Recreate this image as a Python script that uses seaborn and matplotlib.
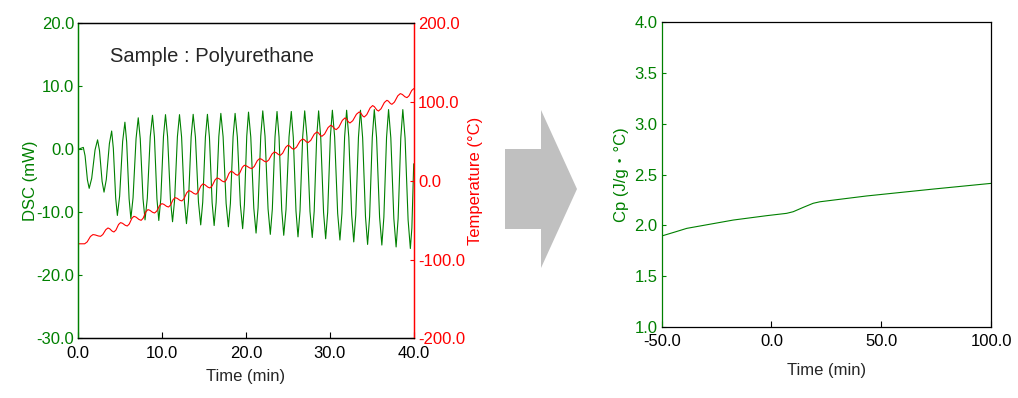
import numpy as np
import pandas as pd
import seaborn as sns
import matplotlib.pyplot as plt
from matplotlib.patches import Polygon

# DSC signal (mW): turning points of the modulation
dsc_time = [0, 0.6, 1.3, 2.3, 3.07, 3.98, 4.66, 5.56, 6.27, 7.15, 7.96, 8.85, 9.6, 10.4,
            11.24, 12.07, 12.9, 13.7, 14.6, 15.4, 16.2, 17.0, 17.9, 18.7, 19.6, 20.3,
            21.2, 22.0, 22.9, 23.7, 24.5, 25.4, 26.2, 27.0, 27.9, 28.66, 29.5, 30.3,
            31.2, 32.0, 32.85, 33.65, 34.5, 35.3, 36.2, 37.0, 37.9, 38.7, 39.6, 40.0]
dsc_mw = [0, 0.3, -6.2, 1.5, -6.8, 2.9, -10.5, 4.3, -11.0, 5.0, -11.2, 5.4, -11.3, 5.5,
          -11.5, 5.5, -11.8, 5.55, -12.0, 5.55, -12.1, 5.7, -12.3, 5.7, -12.6, 5.9,
          -13.3, 6.1, -13.5, 6.0, -13.65, 6.0, -13.9, 6.1, -14.0, 6.1, -14.2, 6.2,
          -14.4, 6.2, -14.7, 6.2, -15.1, 6.3, -15.2, 6.3, -15.5, 6.3, -15.75, -2.3]
# DSC points on the flanks (shoulders of each swing)
dsc_flank_time = [0.81, 1.09, 1.6, 2.0, 2.53, 2.84, 3.34, 3.71, 4.18, 4.46, 4.93, 5.29,
                  5.77, 6.06, 6.53, 6.89, 7.39, 7.72, 8.23, 8.58, 9.08, 9.38, 9.84, 10.16,
                  10.65, 10.99, 11.49, 11.82, 12.32, 12.65, 13.14, 13.46, 13.97, 14.33,
                  14.84, 15.16, 15.64, 15.96, 16.44, 16.76, 17.27, 17.63, 18.14, 18.46,
                  18.97, 19.33, 19.81, 20.09, 20.57, 20.93, 21.44, 21.76, 22.27, 22.63,
                  23.14, 23.46, 23.94, 24.26, 24.77, 25.13, 25.64, 25.96, 26.44, 26.76,
                  27.27, 27.63, 28.13, 28.43, 28.91, 29.25, 29.74, 30.06, 30.57, 30.93,
                  31.44, 31.76, 32.26, 32.6, 33.09, 33.41, 33.91, 34.25, 34.74, 35.06,
                  35.57, 35.93, 36.44, 36.76, 37.27, 37.63, 38.14, 38.46, 38.97, 39.33,
                  39.78]
dsc_flank_mw = [-1.04, -4.86, -4.61, -0.09, -0.21, -5.09, -4.8, 0.9, 0.14, -7.74, -7.45, 1.25,
                1.15, -7.85, -7.7, 1.7, 1.66, -7.86, -7.78, 1.98, 1.96, -7.86, -7.84, 2.04,
                2.0, -8.0, -8.0, 2.0, 1.94, -8.24, -8.23, 1.98, 1.93, -8.38,
                -8.38, 1.93, 1.91, -8.46, -8.43, 2.03, 1.99, -8.59, -8.59, 1.99,
                1.93, -8.83, -8.79, 2.09, 1.94, -9.34, -9.3, 2.1, 2.06, -9.46,
                -9.48, 1.98, 1.95, -9.6, -9.6, 1.95, 1.9, -9.8, -9.78, 1.98,
                1.96, -9.86, -9.86, 1.96, 1.92, -10.02, -10.0, 2.0, 1.96, -10.16,
                -10.16, 1.96, 1.9, -10.4, -10.4, 1.9, 1.81, -10.71, -10.69, 1.89,
                1.87, -10.77, -10.77, 1.87, 1.81, -11.0, -11.0, 1.81, 1.76, -11.21,
                -12.5]

# sample temperature (degC): turning points
temp_time = [0, 0.76, 1.75, 2.66, 3.54, 4.25, 5.04, 5.84, 6.63, 7.5, 8.30, 9.1, 9.96,
             10.76, 11.55, 12.35, 13.18, 14.05, 14.85, 15.7, 16.55, 17.43, 18.2, 19.0,
             19.8, 20.7, 21.63, 22.43, 23.38, 24.1, 25.0, 25.7, 26.75, 27.4, 28.45,
             29.05, 30.1, 30.76, 31.8, 32.4, 33.5, 34.1, 35.1, 35.8, 36.8, 37.4, 38.4,
             39.2, 40.0]
temp_c = [-80, -80, -68.3, -70.5, -59.9, -65, -53.1, -57.4, -45.1, -50.2, -36.6, -40.9,
          -29.0, -33.3, -21.4, -25.6, -12.5, -17.1, -4.0, -9.1, 3.6, -1.5, 12.1, 7.0,
          19.7, 15.5, 28.2, 23.9, 36.6, 32.4, 45.1, 40.0, 53.1, 48.5, 62.0, 56.5, 70.5,
          65.0, 79.8, 73.4, 87.4, 81.0, 95.5, 88.6, 102.2, 97.1, 110.7, 105.6, 117]
# temperature points on the flanks
temp_flank_time = [1.06, 1.45, 2.02, 2.39, 2.92, 3.28, 3.75, 4.04, 4.49, 4.8, 5.28, 5.6,
                   6.08, 6.39, 6.89, 7.24, 7.74, 8.06, 8.54, 8.86, 9.36, 9.7, 10.2, 10.52,
                   11.0, 11.31, 11.79, 12.11, 12.6, 12.93, 13.44, 13.79, 14.29, 14.61,
                   15.1, 15.45, 15.96, 16.3, 16.81, 17.17, 17.66, 17.97, 18.44, 18.76,
                   19.24, 19.56, 20.07, 20.43, 20.98, 21.35, 21.87, 22.19, 22.72, 23.1,
                   23.6, 23.88, 24.37, 24.73, 25.21, 25.49, 26.02, 26.44, 26.95, 27.2,
                   27.72, 28.14, 28.63, 28.87, 29.37, 29.79, 30.3, 30.56, 31.07, 31.49,
                   31.98, 32.22, 32.73, 33.17, 33.68, 33.92, 34.4, 34.8, 35.31, 35.59,
                   36.1, 36.5, 36.98, 37.22, 37.7, 38.1, 38.64, 38.96, 39.44, 39.76]
temp_flank_c = [-77.6, -70.7, -68.75, -70.05, -68.3, -62.1, -60.95, -63.95, -62.55, -55.55,
                -53.99, -56.51, -54.87, -47.63, -46.15, -49.15, -47.4, -39.4, -37.49, -40.01,
                -38.45, -31.45, -29.89, -32.41, -30.85, -23.85, -22.27, -24.73, -22.9, -15.2,
                -13.45, -16.15, -14.4, -6.7, -5.05, -8.05, -6.48, 0.98, 2.55, -0.45,
                1.3, 9.3, 11.05, 8.05, 9.62, 17.08, 18.83, 16.37, 18.12, 25.58,
                27.31, 24.79, 26.52, 33.98, 35.73, 33.27, 35.02, 42.48, 44.05, 41.05,
                42.7, 50.4, 52.15, 49.45, 51.28, 59.22, 60.87, 57.63, 59.38, 67.62,
                69.37, 66.13, 68.05, 76.75, 78.48, 74.72, 76.28, 84.52, 86.08, 82.32,
                83.99, 92.51, 94.08, 90.02, 91.4, 99.4, 101.15, 98.15, 99.9, 107.9,
                109.65, 106.65, 107.95, 114.65]

# reversing heat capacity
cp_x = [-50, -44, -38.6, -17.4, -2.2, 6.9, 9.9, 14.5, 19.0, 22.1, 43.3, 73.7, 100]
cp_val = [1.896, 1.935, 1.971, 2.053, 2.096, 2.119, 2.135, 2.178, 2.218, 2.233, 2.29,
          2.358, 2.414]

dsc = pd.DataFrame({'t': dsc_time + dsc_flank_time,
                    'v': dsc_mw + dsc_flank_mw}).sort_values('t')
temp = pd.DataFrame({'t': temp_time + temp_flank_time,
                     'v': temp_c + temp_flank_c}).sort_values('t')

green = '#008000'
red = '#FF0000'

sns.set_style('ticks')
plt.rcParams['font.family'] = ['Liberation Sans', 'Noto Sans CJK JP', 'DejaVu Sans']
plt.rcParams['axes.linewidth'] = 0.9
plt.rcParams['xtick.direction'] = 'in'
plt.rcParams['ytick.direction'] = 'in'

fig = plt.figure(figsize=(10.18, 3.98), dpi=100)
ax = fig.add_axes([0.0769, 0.150, 0.3295, 0.7915])
ax2 = ax.twinx()
axr = fig.add_axes([0.650, 0.1784, 0.3235, 0.7656])

# left: DSC + temperature
sns.lineplot(data=dsc, x='t', y='v', ax=ax, color=green, lw=0.8, sort=False)
sns.lineplot(data=temp, x='t', y='v', ax=ax2, color=red, lw=0.8, sort=False)

ax.set_xlim(0, 40)
ax.set_ylim(-30, 20)
ax2.set_ylim(-200, 200)
ax.set_xticks(np.arange(0, 41, 10))
ax.set_yticks(np.arange(-30, 21, 10))
ax2.set_yticks(np.arange(-200, 201, 100))
ax.set_xticklabels([f'{v:.1f}' for v in np.arange(0, 41, 10)], fontsize=12)
ax.set_yticklabels([f'{v:.1f}' for v in np.arange(-30, 21, 10)], fontsize=12, color=green)
ax2.set_yticklabels([f'{v:.1f}' for v in np.arange(-200, 201, 100)], fontsize=12, color=red)
ax.tick_params(axis='x', length=4, width=0.8, pad=5.5, colors='black')
ax.tick_params(axis='y', length=3, width=0.8, pad=3, colors=green)
ax2.tick_params(axis='y', length=3, width=0.8, pad=3, colors=red)
ax.set_xlabel('Time (min)', fontsize=12, labelpad=6)
ax.set_ylabel('DSC (mW)', fontsize=12, color=green, labelpad=-1)
ax2.set_ylabel('Temperature (°C)', fontsize=12, color=red, labelpad=2)
for a in (ax, ax2):
    a.spines['left'].set_color(green)
    a.spines['right'].set_color(red)
    a.spines['top'].set_color('black')
    a.spines['bottom'].set_color('black')
ax.text(0.095, 0.893, 'Sample : Polyurethane', transform=ax.transAxes, fontsize=14.5,
        ha='left', va='center')

# right: Cp
sns.lineplot(x=cp_x, y=cp_val, ax=axr, color=green, lw=0.8)
axr.set_xlim(-50, 100)
axr.set_ylim(1.0, 4.0)
axr.set_xticks([-50, 0, 50, 100])
axr.set_yticks(np.arange(1.0, 4.01, 0.5))
axr.set_xticklabels([f'{v:.1f}' for v in [-50, 0, 50, 100]], fontsize=12)
axr.set_yticklabels([f'{v:.1f}' for v in np.arange(1.0, 4.01, 0.5)], fontsize=12, color=green)
axr.tick_params(axis='x', length=4, width=0.8, pad=5, colors='black')
axr.tick_params(axis='y', length=3, width=0.8, pad=3, colors=green)
axr.set_xlabel('Time (min)', fontsize=12, labelpad=10)
axr.set_ylabel('Cp (J/g・°C)', fontsize=12, color=green, labelpad=4)
axr.spines['left'].set_color(green)
for s in ('top', 'right', 'bottom'):
    axr.spines[s].set_color('black')
    axr.spines[s].set_visible(True)

# block arrow between the panels
W, H = 1018, 398
arrow_px = [(505, 149), (541, 149), (541, 110), (577, 189), (541, 268), (541, 229), (505, 229)]
arrow = Polygon([(x / W, 1 - y / H) for x, y in arrow_px], closed=True,
                transform=fig.transFigure, facecolor='#C0C0C0', edgecolor='none')
fig.patches.append(arrow)

fig.savefig('out.png', dpi=100)
